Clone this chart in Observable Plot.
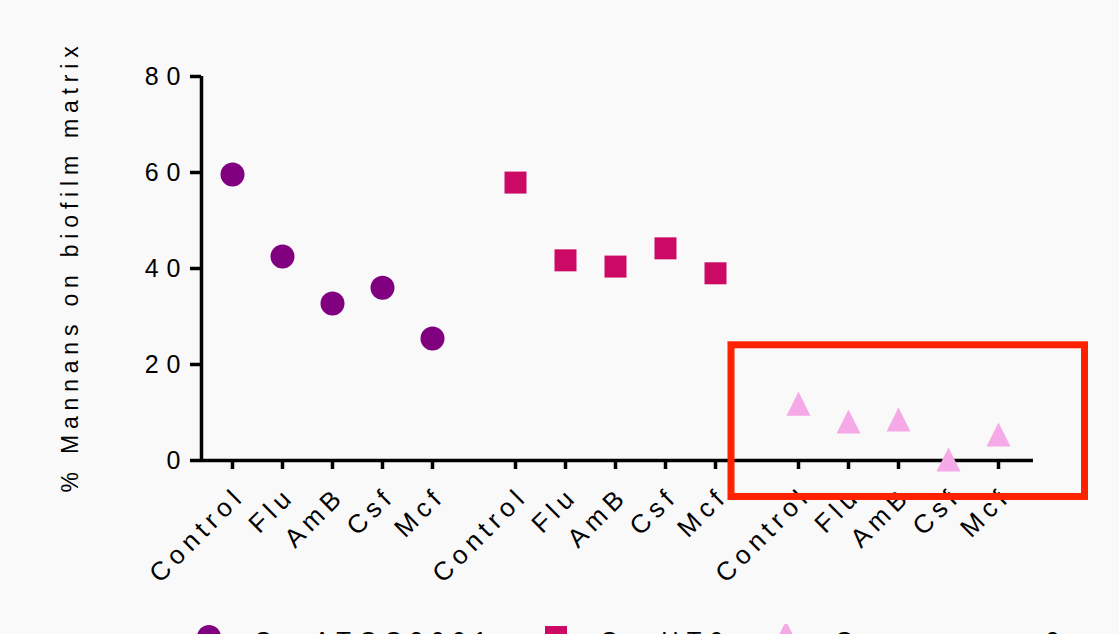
<!DOCTYPE html>
<html><head><meta charset="utf-8">
<script src="https://cdn.jsdelivr.net/npm/d3@7"></script>
<script src="https://cdn.jsdelivr.net/npm/@observablehq/plot@0.6"></script>
<style>
html,body{margin:0;padding:0;background:#f9f9f9;}
body{width:1119px;height:634px;overflow:hidden;position:relative;font-family:"Liberation Sans",Arial,sans-serif;}
#chart{position:absolute;left:0;top:0;}
#legend{position:absolute;left:0;top:612px;width:1119px;height:60px;}
.sym{position:absolute;top:12px;}
.lab{position:absolute;top:17px;font-size:24px;line-height:24px;letter-spacing:8px;color:#000;white-space:nowrap;}
</style></head><body>
<div id="chart"></div><div id="legend"></div>
<script>
// ---- data ----
const treatments = ["Control", "Flu", "AmB", "Csf", "Mcf"];
const strains = ["Cg ATCC2001", "Cg HT6", "Cg mannan 2"];
const colors = ["#800080", "#cc0a66", "#f5a9e6"];
const atcc = [59.6, 42.5, 32.7, 36.0, 25.4];
const ht6 = [57.9, 41.7, 40.4, 44.2, 39.0];
const mannan2 = [11.0, 7.3, 7.7, -0.6, 4.6];
const yTicks = [0, 20, 40, 60, 80];
const yLabel = "% Mannans on biofilm matrix";
const groupGap = 5.66;          // category slots between group starts
const highlight = {strain: 2, from: -1.34, to: 5.73, y1: -7.6, y2: 24};

// ---- build table ----
const series = [atcc, ht6, mannan2];
const rows = [];
series.forEach((vals, s) => vals.forEach((v, t) => rows.push({
  strain: strains[s], treatment: treatments[t], pos: s * groupGap + t, value: v
})));
const tickPos = rows.map(d => d.pos);
const xMin = -0.62, xMax = d3.max(tickPos) + 0.7;

// ---- custom symbols ----
const square = {draw(ctx, size) { const r = Math.sqrt(size / Math.PI); ctx.rect(-r, -r, 2 * r, 2 * r); }};
const triangle = {draw(ctx, size) { const r = Math.sqrt(size / Math.PI);
  ctx.moveTo(0, -4 * r / 3); ctx.lineTo(r, 2 * r / 3); ctx.lineTo(-r, 2 * r / 3); ctx.closePath(); }};
const circle = {draw(ctx, size) { const r = Math.sqrt(size / Math.PI); ctx.moveTo(r, 0); ctx.arc(0, 0, r, 0, 2 * Math.PI); }};
const shapes = [circle, square, triangle];
const sizes = [12, 11, 12];

const hl = [{
  x1: highlight.strain * groupGap + highlight.from,
  x2: highlight.strain * groupGap + highlight.to,
  y1: highlight.y1, y2: highlight.y2
}];

const chart = Plot.plot({
  width: 1119, height: 612,
  marginLeft: 201, marginRight: 1119 - 1033, marginTop: 76, marginBottom: 152,
  style: {background: "#f9f9f9", fontFamily: "Liberation Sans, Arial, sans-serif", color: "#000"},
  x: {type: "linear", domain: [xMin, xMax], axis: null},
  y: {domain: [0, 80], axis: null},
  symbol: {domain: strains, range: shapes},
  color: {domain: strains, range: colors},
  marks: [
    Plot.ruleY([0], {x1: xMin, x2: xMax, stroke: "#000", strokeWidth: 3.5}),
    Plot.ruleX([xMin], {y1: 0, y2: 80, stroke: "#000", strokeWidth: 3.5}),
    Plot.axisY(yTicks, {anchor: "left", tickSize: 11, tickPadding: 2, strokeWidth: 3.5, label: null, fontSize: 25}),
    Plot.axisX(tickPos, {anchor: "bottom", tickSize: 9, strokeWidth: 3.5, label: null, tickFormat: () => ""}),
    Plot.text(rows, {x: "pos", text: "treatment", frameAnchor: "bottom", textAnchor: "end", lineAnchor: "middle",
      rotate: -45, dx: 8, dy: 31, fontSize: 26, fill: "#000"}),
    Plot.text([yLabel], {frameAnchor: "left", textAnchor: "middle", rotate: -90, dx: -131, dy: -2, fill: "#000",
      fontSize: 23}),
    ...strains.map((s, i) => Plot.dot(rows.filter(d => d.strain === s), {
      x: "pos", y: "value", symbol: "strain", fill: "strain", r: sizes[i], stroke: null
    })),
    Plot.rect(hl, {x1: "x1", x2: "x2", y1: "y1", y2: "y2", fill: "none", stroke: "#ff2200", strokeWidth: 7})
  ]
});
document.getElementById("chart").appendChild(chart);
chart.querySelectorAll("g[aria-label='y-axis tick label'] text").forEach(t => t.style.letterSpacing = "8px");
const textGroups = chart.querySelectorAll("g[aria-label='text']");
textGroups[0].querySelectorAll("text").forEach(t => t.style.letterSpacing = "5.5px");
textGroups[1].querySelectorAll("text").forEach(t => t.style.letterSpacing = "5.8px");

// ---- legend (below the SVG) ----
const legend = document.getElementById("legend");
const symX = [196, 543, 773], labX = [254, 600, 835];
strains.forEach((s, i) => {
  const sv = d3.create("svg").attr("class", "sym").attr("width", 26).attr("height", 26)
    .style("left", symX[i] + "px");
  const p = d3.path(); shapes[i].draw(p, sizes[i] * sizes[i] * Math.PI);
  sv.append("path").attr("transform", "translate(13,13)").attr("d", p.toString()).attr("fill", colors[i]);
  legend.appendChild(sv.node());
  const lab = document.createElement("div");
  lab.className = "lab"; lab.style.left = labX[i] + "px"; lab.textContent = s;
  legend.appendChild(lab);
});
</script></body></html>
